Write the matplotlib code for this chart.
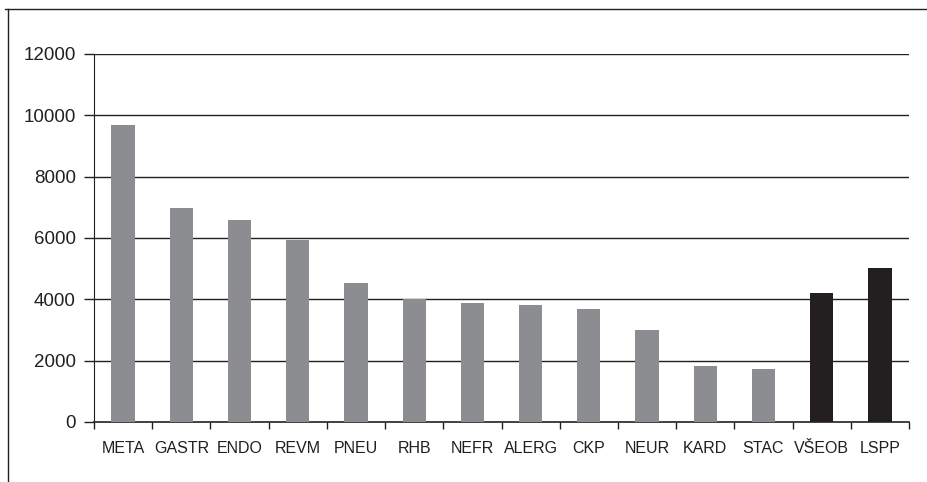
import matplotlib
matplotlib.use("Agg")
import matplotlib.pyplot as plt
from matplotlib.lines import Line2D

categories = ["META", "GASTR", "ENDO", "REVM", "PNEU", "RHB", "NEFR", "ALERG",
              "CKP", "NEUR", "KARD", "STAC", "VŠEOB", "LSPP"]
values = [9680, 6970, 6580, 5930, 4530, 4000, 3870, 3800, 3700, 3000, 1810, 1720, 4220, 5020]
bar_colors = ["#8c8d91"] * 12 + ["#231f20"] * 2
yticks = [0, 2000, 4000, 6000, 8000, 10000, 12000]

plt.rcParams['font.family'] = ['Liberation Sans', 'DejaVu Sans']

fig = plt.figure(figsize=(9.27, 4.82), dpi=100)
ax = fig.add_axes([94/927, 60/482, 815/927, 368/482])

x = list(range(len(categories)))
ax.bar(x, values, width=0.4, color=bar_colors, zorder=3)

ax.set_ylim(0, 12000)
ax.set_xlim(-0.5, len(categories) - 0.5)
ax.set_yticks(yticks)
ax.set_yticklabels([str(v) for v in yticks], fontsize=13.5, color="#231f20")
for v in yticks[1:]:
    ax.axhline(v, color="#231f20", linewidth=1.0, zorder=1)

ax.set_xticks([i - 0.5 for i in range(len(categories) + 1)])
ax.set_xticklabels([])
ax.tick_params(axis='x', direction='out', length=5, width=1, color="#231f20")
ax.tick_params(axis='y', direction='out', length=7, width=1, color="#231f20", pad=6)
for i, c in enumerate(categories):
    ax.text(i, -620, c, ha='center', va='top', fontsize=11.5, color="#231f20")

for s in ['top', 'right']:
    ax.spines[s].set_visible(False)
ax.spines['left'].set_color("#231f20")
ax.spines['bottom'].set_color("#231f20")
ax.spines['bottom'].set_linewidth(1.2)

# outer frame (top and left edges visible)
fig.add_artist(Line2D([5/927, 1.0], [1 - 9/482, 1 - 9/482], transform=fig.transFigure,
                      color="#231f20", linewidth=1.0))
fig.add_artist(Line2D([8/927, 8/927], [0, 1 - 9/482], transform=fig.transFigure,
                      color="#231f20", linewidth=1.0))

fig.savefig("out.png", dpi=100)
